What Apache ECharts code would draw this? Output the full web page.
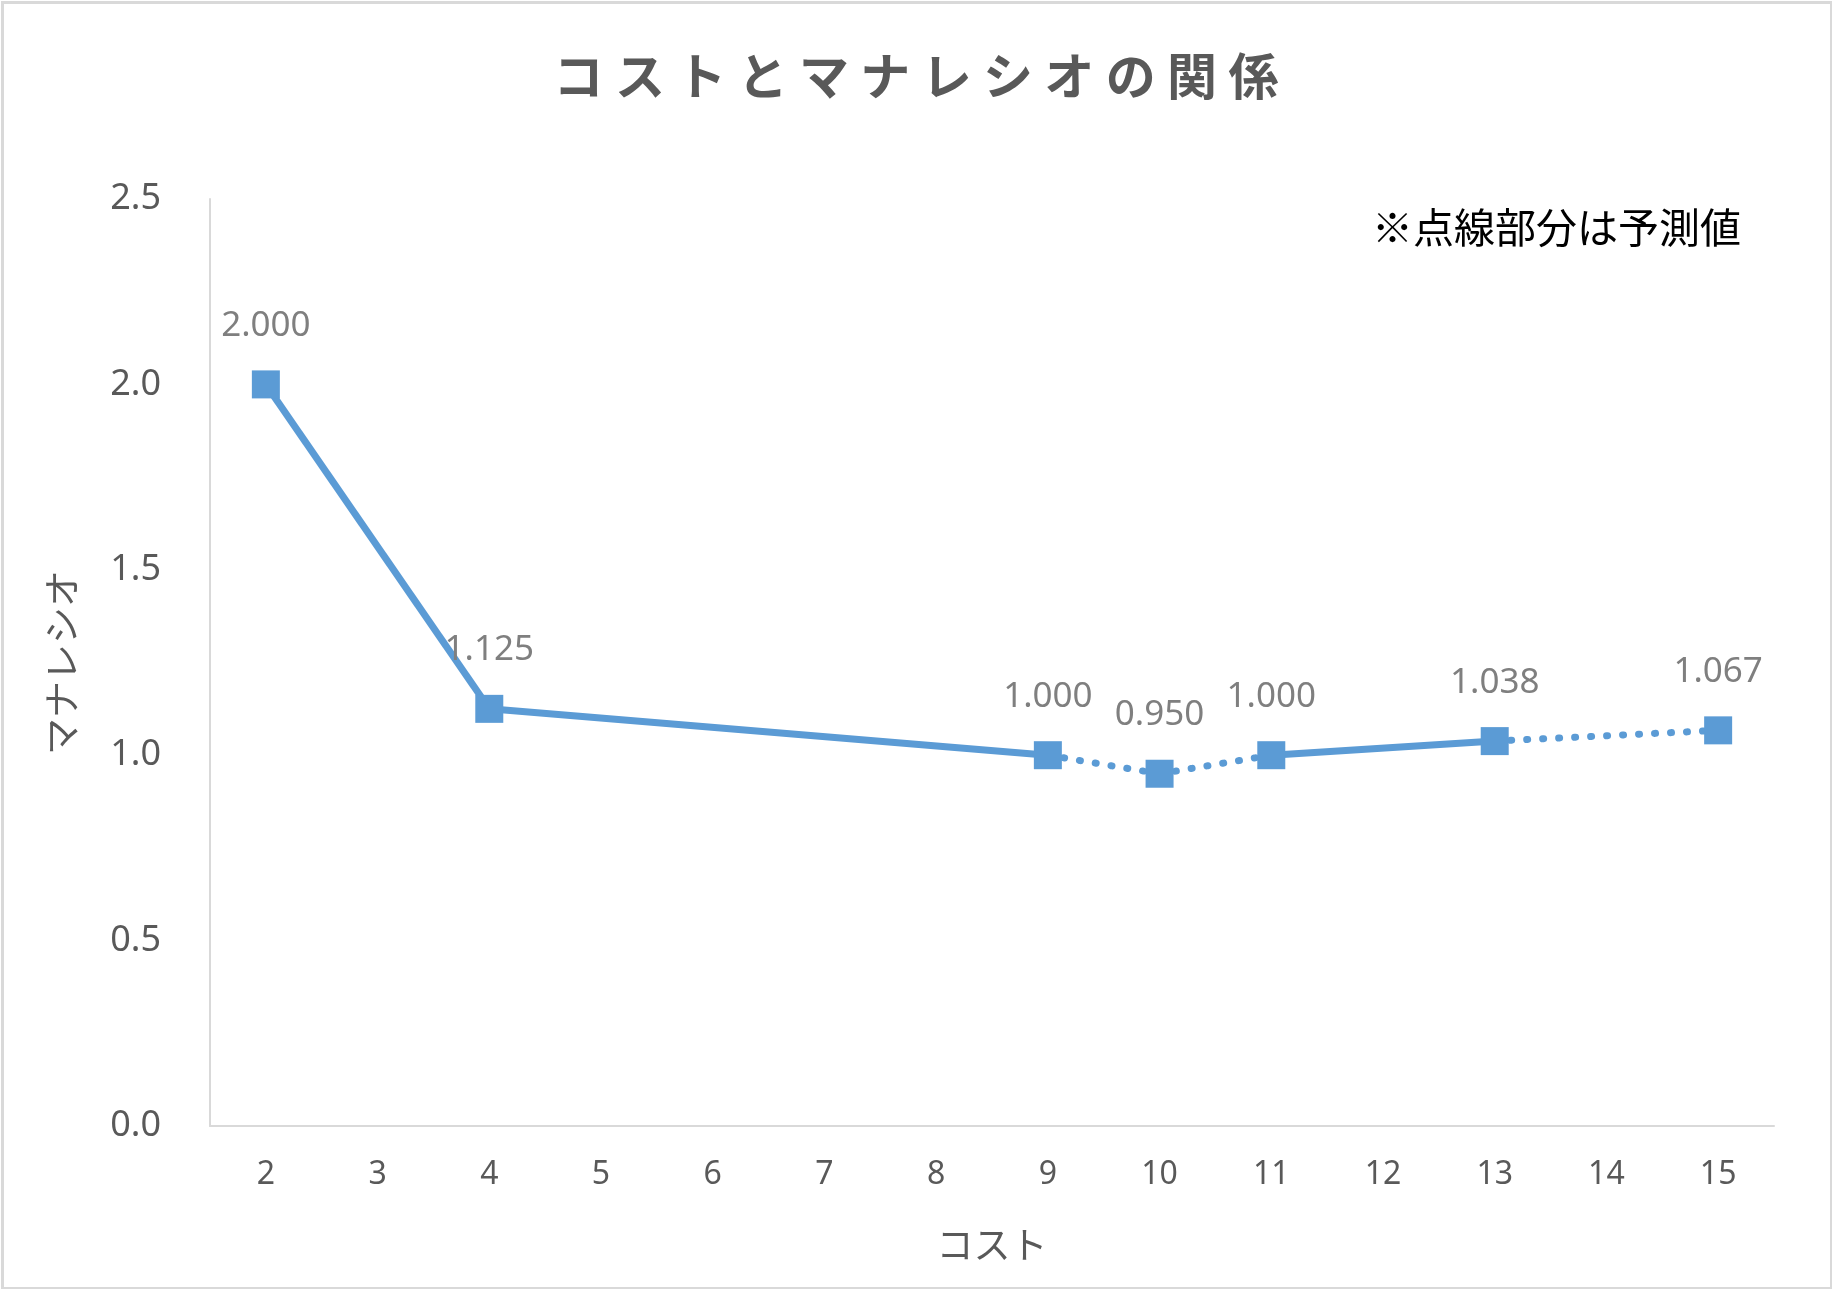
<!DOCTYPE html>
<html>
<head>
<meta charset="utf-8">
<title>コストとマナレシオの関係</title>
<script src="https://cdn.jsdelivr.net/npm/echarts@6/dist/echarts.min.js"></script>
<style>
  html, body { margin: 0; padding: 0; background: #fff; }
  #chart { width: 1832px; height: 1289px; }
</style>
</head>
<body>
<div id="chart"></div>
<script>
// コスト (category) and マナレシオ values
const costs = ['2', '3', '4', '5', '6', '7', '8', '9', '10', '11', '12', '13', '14', '15'];
const manaRatio = [2.000, null, 1.125, null, null, null, null, 1.000, 0.950, 1.000, null, 1.038, null, 1.067];
// points that are predictions -> segments touching them are dotted
const predictedCosts = ['10', '15'];
const titleText = 'コストとマナレシオの関係';
const noteText = '※点線部分は予測値';

const JP = '"Noto Sans CJK JP", "Noto Sans", sans-serif';
const NUM = '"Noto Sans", "Open Sans", sans-serif';
const BLUE = '#5b9bd5';

// build one series per segment between consecutive known points
const known = [];
manaRatio.forEach((v, i) => { if (v != null) known.push(i); });
const segmentSeries = [];
for (let k = 0; k < known.length - 1; k++) {
  const a = known[k], b = known[k + 1];
  const data = costs.map((c, i) => (i === a || i === b) ? manaRatio[i] : null);
  const dotted = predictedCosts.includes(costs[a]) || predictedCosts.includes(costs[b]);
  segmentSeries.push({
    type: 'line',
    data: data,
    connectNulls: true,
    symbol: 'none',
    silent: true,
    z: 2,
    lineStyle: dotted
      ? { color: BLUE, width: 7, type: [1, 15], cap: 'round' }
      : { color: BLUE, width: 7, type: 'solid' }
  });
}

const chart = echarts.init(document.getElementById('chart'));
chart.setOption({
  animation: false,
  backgroundColor: '#fff',
  title: {
    text: titleText.split('').join(' '),
    left: 'center',
    top: 46,
    textStyle: { fontFamily: JP, fontSize: 50, fontWeight: 'bold', color: '#595959' }
  },
  grid: { left: 210, right: 58, top: 199, bottom: 163 },
  xAxis: {
    type: 'category',
    data: costs,
    boundaryGap: true,
    name: 'コスト',
    nameLocation: 'middle',
    nameGap: 100,
    nameTextStyle: { fontFamily: JP, fontSize: 37, color: '#595959' },
    axisLine: { lineStyle: { color: '#d9d9d9', width: 2 } },
    axisTick: { show: false },
    axisLabel: { fontFamily: NUM, fontSize: 32, color: '#595959', margin: 33 }
  },
  yAxis: {
    type: 'value',
    min: 0,
    max: 2.5,
    interval: 0.5,
    name: 'マナレシオ',
    nameLocation: 'middle',
    nameGap: 130,
    nameTextStyle: { fontFamily: JP, fontSize: 37, color: '#595959' },
    axisLine: { show: true, lineStyle: { color: '#d9d9d9', width: 2 } },
    axisTick: { show: false },
    splitLine: { show: false },
    axisLabel: {
      fontFamily: NUM, fontSize: 36, color: '#595959', margin: 49,
      formatter: v => v.toFixed(1)
    }
  },
  graphic: [{
    type: 'rect',
    left: 0,
    top: 0,
    shape: { x: 1.5, y: 1.5, width: 1829, height: 1286 },
    style: { fill: null, stroke: '#d9d9d9', lineWidth: 3 },
    silent: true
  }, {
    type: 'text',
    right: 91,
    top: 207,
    style: { text: noteText, font: '41px ' + JP, fill: '#000' }
  }],
  series: segmentSeries.concat([{
    type: 'line',
    data: manaRatio,
    connectNulls: false,
    symbol: 'rect',
    symbolSize: 28,
    lineStyle: { width: 0, opacity: 0 },
    itemStyle: { color: BLUE },
    z: 3,
    label: {
      show: true,
      position: 'top',
      distance: 27,
      fontFamily: NUM,
      fontSize: 35,
      color: '#7f7f7f',
      formatter: p => p.value.toFixed(3)
    }
  }])
});
</script>
</body>
</html>
